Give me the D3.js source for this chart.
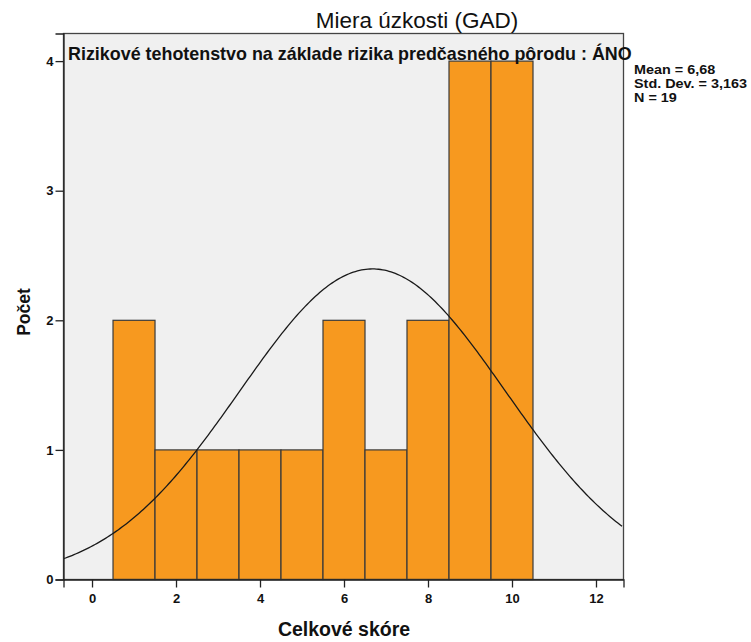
<!DOCTYPE html>
<html>
<head>
<meta charset="utf-8">
<script src="https://cdn.jsdelivr.net/npm/d3@7"></script>
<style>
  html, body { margin: 0; padding: 0; background: #fff; }
  svg { display: block; font-family: "Liberation Sans", Arial, sans-serif; }
</style>
</head>
<body>
<svg id="chart" width="751" height="642"></svg>
<script>
// Histogram of the total GAD score with a fitted normal curve
const binCenters = [1, 2, 3, 4, 5, 6, 7, 8, 9, 10];
const binCounts  = [2, 1, 1, 1, 1, 2, 1, 2, 4, 4];
const xTicks = [0, 2, 4, 6, 8, 10, 12];
const yTicks = [0, 1, 2, 3, 4];
const statsLines = ["Mean = 6,68", "Std. Dev. = 3,163", "N = 19"];
const mean = 6.68, sd = 3.163, n = 19, binWidth = 1;

const title = "Miera úzkosti (GAD)";
const subtitle = "Rizikové tehotenstvo na základe rizika predčasného pôrodu : ÁNO";
const xTitle = "Celkové skóre";
const yTitle = "Počet";

const svg = d3.select("#chart");
const plot = { left: 63.5, right: 623.5, top: 33.5, bottom: 579.5 };

const x = d3.scaleLinear().domain([-0.679, 12.655]).range([plot.left, plot.right]);
const y = d3.scaleLinear().domain([0, 4.213]).range([plot.bottom, plot.top]);

// plot background
svg.append("rect")
  .attr("x", plot.left).attr("y", plot.top)
  .attr("width", plot.right - plot.left).attr("height", plot.bottom - plot.top)
  .attr("fill", "#f0f0f0");

svg.append("defs").append("clipPath").attr("id", "clip")
  .append("rect")
  .attr("x", plot.left).attr("y", plot.top)
  .attr("width", plot.right - plot.left).attr("height", plot.bottom - plot.top);

// bars
svg.append("g").selectAll("rect")
  .data(binCenters.map((c, i) => ({ c, v: binCounts[i] })))
  .join("rect")
  .attr("x", d => x(d.c - binWidth / 2))
  .attr("y", d => y(d.v))
  .attr("width", d => x(d.c + binWidth / 2) - x(d.c - binWidth / 2))
  .attr("height", d => y(0) - y(d.v))
  .attr("fill", "#f7991f")
  .attr("stroke", "#3a3a3a")
  .attr("stroke-width", 1.2);

// normal curve scaled to counts
const pdf = t => n * binWidth * Math.exp(-0.5 * ((t - mean) / sd) ** 2) / (sd * Math.sqrt(2 * Math.PI));
const xs = d3.range(x.domain()[0], x.domain()[1] + 0.001, 0.05);
svg.append("path")
  .datum(xs)
  .attr("clip-path", "url(#clip)")
  .attr("fill", "none")
  .attr("stroke", "#1a1a1a")
  .attr("stroke-width", 1.3)
  .attr("d", d3.line().x(t => x(t)).y(t => y(pdf(t))));

// frame
svg.append("rect")
  .attr("x", plot.left).attr("y", plot.top)
  .attr("width", plot.right - plot.left).attr("height", plot.bottom - plot.top)
  .attr("fill", "none").attr("stroke", "#444").attr("stroke-width", 1.3);

// axes
const xAxis = svg.append("g")
  .attr("transform", `translate(0,${plot.bottom})`)
  .call(d3.axisBottom(x).tickValues(xTicks).tickSize(8).tickPadding(6).tickFormat(d3.format("d")));
const yAxis = svg.append("g")
  .attr("transform", `translate(${plot.left},0)`)
  .call(d3.axisLeft(y).tickValues(yTicks).tickSize(8).tickPadding(2).tickFormat(d3.format("d")));
[xAxis, yAxis].forEach(g => {
  g.select(".domain").attr("stroke", "#222").attr("stroke-width", 1.3);
  g.selectAll(".tick line").attr("stroke", "#222").attr("stroke-width", 1.3);
  g.selectAll(".tick text").attr("fill", "#111")
    .style("font-size", "13px").style("font-weight", "bold")
    .style("font-family", "'Liberation Sans', Arial, sans-serif");
});

// titles
svg.append("text").attr("x", 417).attr("y", 27.5).attr("text-anchor", "middle")
  .style("font-size", "22.5px").attr("fill", "#111").text(title);
svg.append("text").attr("x", 68).attr("y", 59.5)
  .style("font-size", "17.9px").style("font-weight", "bold").attr("fill", "#111").text(subtitle);
svg.append("text").attr("x", 344).attr("y", 636).attr("text-anchor", "middle")
  .style("font-size", "19.5px").style("font-weight", "bold").attr("fill", "#111").text(xTitle);
svg.append("text").attr("transform", "translate(29.5,312) rotate(-90)").attr("text-anchor", "middle")
  .style("font-size", "17.5px").style("font-weight", "bold").attr("fill", "#111").text(yTitle);

// summary statistics
svg.append("g").selectAll("text").data(statsLines).join("text")
  .attr("transform", (d, i) => `translate(634,${73.5 + i * 14}) scale(1.2,1)`)
  .style("font-size", "12px").style("font-weight", "bold").attr("fill", "#111")
  .text(d => d);
</script>
</body>
</html>
